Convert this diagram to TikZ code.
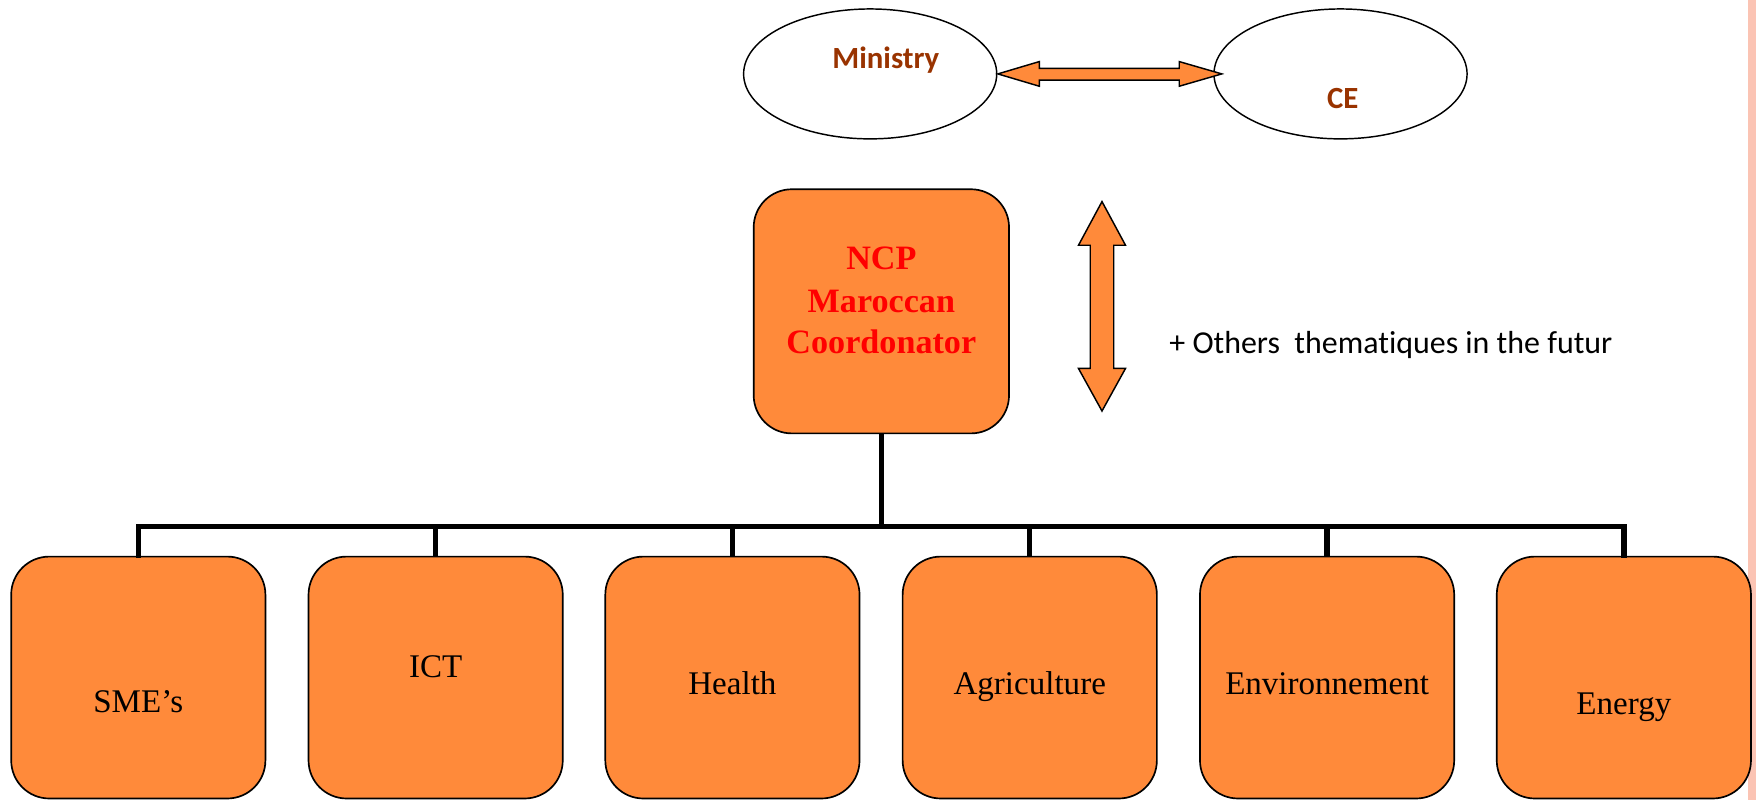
\documentclass[tikz,border=0pt]{standalone}
\usepackage{fontspec}
\setmainfont{Liberation Serif}
\newfontfamily\calib[Ligatures={NoCommon}]{Carlito}
\usetikzlibrary{shapes.geometric,calc}
\definecolor{boxorange}{HTML}{FF8A3A}
\definecolor{brownred}{HTML}{993300}
\definecolor{pinkedge}{HTML}{FBC4B4}
\tikzset{
  ovalbox/.style={ellipse,draw=black,line width=1.3pt,fill=white,minimum width=226pt,minimum height=116pt,inner sep=0pt},
  orbox/.style={draw=black,line width=1.5pt,fill=boxorange,rounded corners=34pt,inner sep=0pt},
  childbox/.style={orbox,minimum width=227pt,minimum height=216pt},
  childtxt/.style={anchor=base,font=\fontsize{29.5}{35}\selectfont,inner sep=0pt},
  ncptxt/.style={anchor=base,font=\fontsize{30.5}{36}\selectfont\bfseries,text=red,inner sep=0pt},
  eltxt/.style={anchor=base,font=\calib\bfseries\fontsize{27.5}{32}\selectfont,text=brownred,inner sep=0pt},
  conn/.style={line width=4.8pt,draw=black},
  fatarrow/.style={draw=black,line width=1.3pt,fill=boxorange,line join=miter}
}
\begin{document}
\begin{tikzpicture}[x=1pt,y=-1pt]
\useasboundingbox (0,0) rectangle (1568,714);
\fill[pinkedge] (1561,0) rectangle (1568,714);

% top ellipses
\node[ovalbox] (ministry) at (777,66) {};
\node[ovalbox] (ce) at (1197,66) {};
\node[eltxt] (mintxt) at (791,61) {Ministry};
\node[eltxt] (cetxt) at (1199,96.5) {CE};

% horizontal double arrow
\draw[fatarrow] (891,66) -- (928,55) -- (928,61) -- (1053,61) -- (1053,55) -- (1091,66)
  -- (1053,77) -- (1053,71.5) -- (928,71.5) -- (928,77) -- cycle;

% NCP box
\node[orbox,minimum width=228pt,minimum height=218pt] (ncp) at (787,278) {};
\node[ncptxt] (ncp1) at (787,241) {NCP};
\node[ncptxt] (ncp2) at (787,279) {Maroccan};
\node[ncptxt] (ncp3) at (787,316) {Coordonator};

% vertical double arrow
\draw[fatarrow] (984,180) -- (1005,219) -- (994.5,219) -- (994.5,329) -- (1005,329) -- (984,367)
  -- (963,329) -- (973.5,329) -- (973.5,219) -- (963,219) -- cycle;

\node[anchor=base west,font=\calib\fontsize{28.5}{33}\selectfont,inner sep=0pt] (others) at (1044,316) {+ Others\ \ thematiques in the futur};

% child boxes
\node[childbox] (sme) at (123.5,605) {};
\node[childbox] (ict) at (389,605) {};
\node[childbox] (health) at (654,605) {};
\node[childbox] (agri) at (919.5,605) {};
\node[childbox] (env) at (1185,605) {};
\node[childbox] (energy) at (1450,605) {};

\node[childtxt] (smet) at (123.5,636) {SME’s};
\node[childtxt] (ictt) at (389,605) {ICT};
\node[childtxt] (healtht) at (654,620) {Health};
\node[childtxt] (agrit) at (919.5,620) {Agriculture};
\node[childtxt] (envt) at (1185,620) {Environnement};
\node[childtxt] (energyt) at (1450,638) {Energy};

% connectors
\coordinate (hub) at (787,470);
\draw[conn] (ncp.south) -- (hub);
\draw[conn,line cap=rect] (sme.north) |- (energy.north |- hub) -- (energy.north);
\foreach \n in {ict,health,agri,env}{
  \draw[conn] (\n.north) -- (\n.north |- hub);
}
\end{tikzpicture}
\end{document}
